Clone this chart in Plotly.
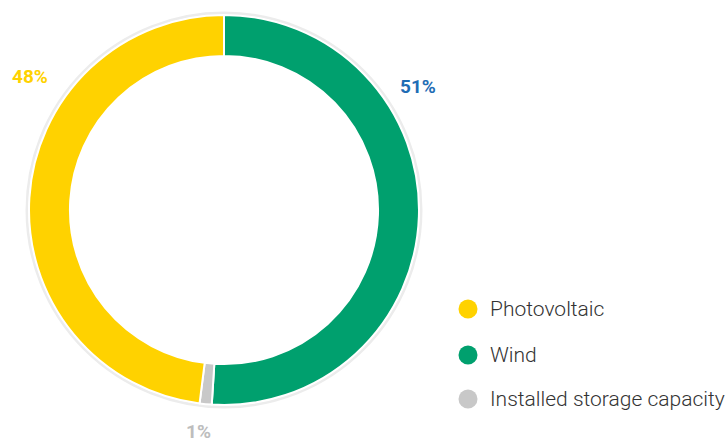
import plotly.graph_objects as go

# Data
categories = ["Photovoltaic", "Wind", "Installed storage capacity"]
values = [48, 51, 1]
colors = ["#FFD200", "#00A06E", "#C8C8C8"]
label_colors = ["#FFD200", "#1F6DB5", "#BDBDBD"]

W, H = 728, 443
cx, cy, R = 224, 210, 195

# slice order drawn clockwise from 12 o'clock: Wind, Storage, Photovoltaic
order = [1, 2, 0]
pie_labels = [categories[i] for i in order]
pie_values = [values[i] for i in order]
pie_colors = [colors[i] for i in order]


def px(x):
    return x / W


def py(y):
    return 1 - y / H


fig = go.Figure()
fig.add_trace(go.Pie(
    labels=pie_labels,
    values=pie_values,
    sort=False,
    direction="clockwise",
    rotation=0,
    hole=0.79,
    marker=dict(colors=pie_colors, line=dict(color="white", width=2)),
    textinfo="none",
    showlegend=False,
    domain=dict(x=[px(cx - R), px(cx + R)], y=[py(cy + R), py(cy - R)]),
))

shapes = []
Rr = R + 2
shapes.append(dict(type="circle", xref="paper", yref="paper",
                   x0=px(cx - Rr), x1=px(cx + Rr), y0=py(cy + Rr), y1=py(cy - Rr),
                   line=dict(color="#ECECEC", width=3), layer="below"))

annotations = []
label_pos = [(30, 77), (418, 86), (199, 431)]
for i, (lx, ly) in enumerate(label_pos):
    annotations.append(dict(x=px(lx), y=py(ly), xref="paper", yref="paper",
                            text=f"<b>{values[i]}%</b>", showarrow=False,
                            font=dict(family="Roboto", size=19, color=label_colors[i]),
                            xanchor="center", yanchor="middle"))

leg_y = [309, 355, 399]
r = 9.5
for i, ly in enumerate(leg_y):
    shapes.append(dict(type="circle", xref="paper", yref="paper",
                       x0=px(468 - r), x1=px(468 + r), y0=py(ly + r), y1=py(ly - r),
                       fillcolor=colors[i], line=dict(width=0)))
    annotations.append(dict(x=px(488), y=py(ly), xref="paper", yref="paper",
                            text=categories[i], showarrow=False,
                            font=dict(family="Roboto", size=21, color="#333333", weight=300),
                            xanchor="left", yanchor="middle"))

fig.update_layout(
    width=W, height=H,
    margin=dict(l=0, r=0, t=0, b=0),
    paper_bgcolor="white",
    plot_bgcolor="white",
    shapes=shapes,
    annotations=annotations,
)

fig.write_html(
    "out.html",
    config={"displayModeBar": False},
    post_script="document.body.style.margin='0';"
                "document.documentElement.style.overflow='hidden';",
)
